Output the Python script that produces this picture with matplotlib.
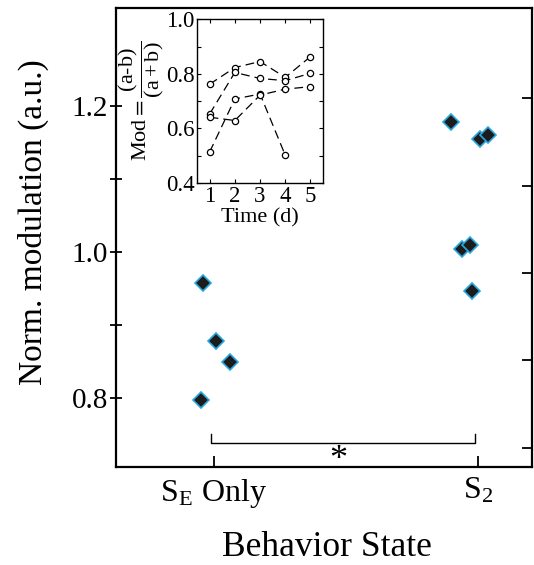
import numpy as np
import matplotlib
matplotlib.use("Agg")
import matplotlib.pyplot as plt

plt.rcParams['font.family'] = ['Liberation Serif', 'DejaVu Serif']
plt.rcParams['mathtext.fontset'] = 'stix'

# main panel data
state_labels = [r'S$_{\mathregular{E}}$ Only', r'S$_{\mathregular{2}}$']
se_x = [0.96, 1.01, 1.06, 0.95]
se_vals = [0.958, 0.878, 0.849, 0.797]
s2_x = [1.90, 2.01, 2.04, 1.94, 1.97, 1.98]
s2_vals = [1.178, 1.155, 1.160, 1.004, 1.010, 0.947]

# inset data (modulation per day)
days = [1, 2, 3, 4, 5]
mod_a = [0.762, 0.823, 0.845, 0.787, 0.863]
mod_b = [0.653, 0.805, 0.783, 0.775, 0.802]
mod_c = [0.514, 0.708, 0.726, 0.502, np.nan]
mod_d = [0.641, 0.629, 0.722, 0.744, 0.753]

fig = plt.figure(figsize=(5.34, 5.65), dpi=100)
ax = fig.add_axes([0.217, 0.1735, 0.779, 0.8125])

ax.plot(se_x, se_vals, 'D', ms=8, mfc='#1c1c1c', mec='#29a8e0', mew=1.2, ls='none')
ax.plot(s2_x, s2_vals, 'D', ms=8, mfc='#1c1c1c', mec='#29a8e0', mew=1.2, ls='none')

# significance bracket
ax.plot([0.99, 0.99, 1.99, 1.99], [0.751, 0.738, 0.738, 0.751], color='k', lw=1)
ax.text(1.47, 0.714, '*', ha='center', va='center', fontsize=26)

ax.set_xlim(0.629, 2.205)
ax.set_ylim(0.7055, 1.334)
ax.set_xticks([1, 2])
ax.set_xticklabels(state_labels, fontsize=23)
ax.set_yticks([0.8, 1.0, 1.2])
ax.set_yticklabels(['0.8', '1.0', '1.2'], fontsize=21)
ax.set_yticks([0.9, 1.1], minor=True)
ax.tick_params(axis='y', which='both', direction='inout', length=9, width=1.3, pad=1)
ax.tick_params(axis='x', direction='in', length=8, width=1.3, pad=7)
for s in ax.spines.values():
    s.set_linewidth(1.6)
ax.set_ylabel('Norm. modulation (a.u.)', fontsize=24)
ax.yaxis.set_label_coords(-0.16, 0.534)
ax.set_xlabel('Behavior State', fontsize=25.5)
ax.xaxis.label.set_va('center')
ax.xaxis.set_label_coords(0.507, -0.176)

ax2 = ax.twinx()
ax2.set_ylim(0.783, 6.03)
ax2.set_yticks([1, 2, 3, 4, 5])
ax2.set_yticklabels([])
ax2.tick_params(axis='y', direction='in', length=7, width=1.3)
for s in ax2.spines.values():
    s.set_visible(False)

# inset
ins = fig.add_axes([0.369, 0.676, 0.236, 0.290])
for vals in [mod_a, mod_b, mod_c, mod_d]:
    ins.plot(days, vals, color='k', lw=0.9, dashes=(7, 4), marker='o', ms=4.5,
             mfc='white', mec='k', mew=0.9)
ins.set_xlim(0.5, 5.5)
ins.set_ylim(0.4, 1.0)
ins.set_xticks(days)
ins.set_yticks([0.4, 0.6, 0.8, 1.0])
ins.set_yticks([0.5, 0.7, 0.9], minor=True)
ins.tick_params(which='both', direction='in', top=True, right=True, labelsize=16.5,
                length=3, width=0.8, pad=2)
ins.set_xlabel('Time (d)', fontsize=16, labelpad=1)
ins.set_ylabel(r'Mod$=\dfrac{\mathregular{(a}\text{-}\mathregular{b)}}{\mathregular{(a+b)}}$',
               fontsize=16, labelpad=0)
for s in ins.spines.values():
    s.set_linewidth(1.0)

fig.savefig('out.png', dpi=100)
